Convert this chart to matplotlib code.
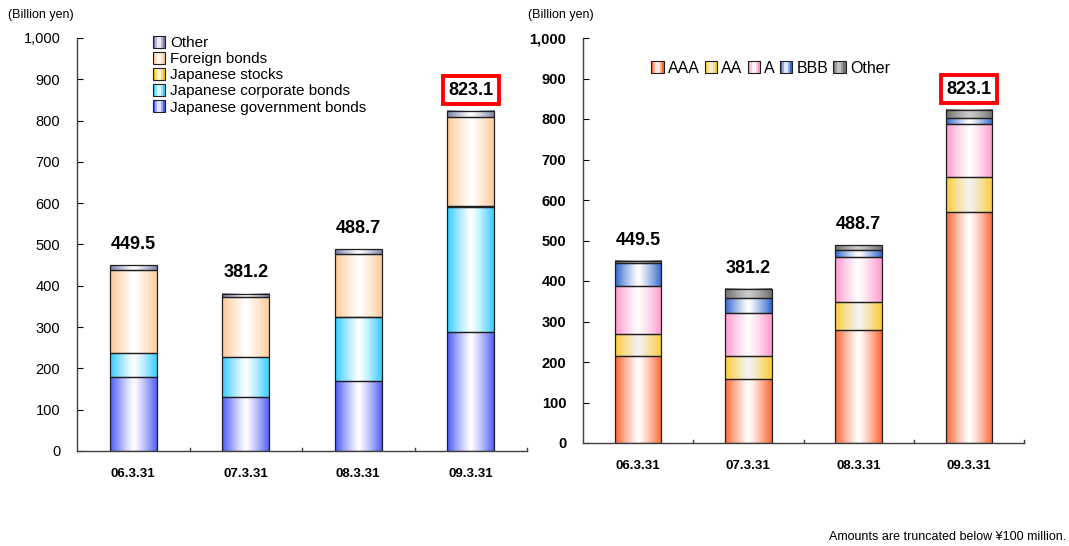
import numpy as np
import matplotlib.pyplot as plt
from matplotlib.colors import to_rgb
from matplotlib.patches import Rectangle
from matplotlib.legend_handler import HandlerBase

plt.rcParams['font.family'] = ['Liberation Sans', 'DejaVu Sans']

dates = ['06.3.31', '07.3.31', '08.3.31', '09.3.31']
totals = [449.5, 381.2, 488.7, 823.1]

# holdings by asset type (billion yen)
jgb = [179, 131, 170, 288]
corp_bonds = [58, 97, 154, 303]
stocks = [0, 0, 1, 2]
foreign_bonds = [201, 145, 153, 215]
other_assets = [11.5, 8.2, 10.7, 15.1]

# holdings by credit rating (billion yen)
aaa = [214, 158, 279, 570]
aa = [55, 56, 69, 88]
a_rated = [119, 106, 111, 130]
bbb = [56, 37, 18, 15]
other_rating = [5.5, 24.2, 11.7, 20.1]


def gradient(color, center=(1, 1, 1), n=64):
    # edge colour -> white-ish in the middle -> edge colour
    x = np.linspace(0, 1, n)
    t = np.abs(x - 0.5) * 2
    t = t ** 1.2
    c = np.array(to_rgb(color))
    w = np.array(center)
    return (w[None, :] * (1 - t[:, None]) + c[None, :] * t[:, None])[None, :, :]


def grad_bar(ax, x, bottom, height, color, width=0.42, center=(1, 1, 1)):
    if height <= 0:
        return
    ax.imshow(gradient(color, center), extent=(x - width / 2, x + width / 2, bottom, bottom + height),
              aspect='auto', interpolation='bilinear', zorder=2)
    ax.add_patch(Rectangle((x - width / 2, bottom), width, height, fill=False,
                           edgecolor='#202020', linewidth=0.9, zorder=3))


class GradHandler(HandlerBase):
    def __init__(self, color, center=(1, 1, 1)):
        super().__init__()
        self.color = color
        self.center = center

    def create_artists(self, legend, orig_handle, xd, yd, width, height, fontsize, trans):
        s = min(width, height)
        x0 = -xd + (width - s) / 2
        y0 = -yd
        cols = gradient(self.color, self.center, n=6)[0]
        arts = []
        for i, c in enumerate(cols):
            arts.append(Rectangle((x0 + i * s / 6, y0), s / 6, s, facecolor=c,
                                  edgecolor='none', transform=trans))
        arts.append(Rectangle((x0, y0), s, s, fill=False, edgecolor='#202020',
                              linewidth=0.8, transform=trans))
        return arts


def style_axes(ax, bold):
    ax.set_xlim(-0.5, 3.5)
    ax.set_ylim(0, 1000)
    ax.spines['top'].set_visible(False)
    ax.spines['right'].set_visible(False)
    for s in ('left', 'bottom'):
        ax.spines[s].set_color('#404040')
        ax.spines[s].set_linewidth(1.0)
    ax.set_yticks(range(0, 1001, 100))
    ax.set_yticklabels([f'{v:,}' for v in range(0, 1001, 100)],
                       fontsize=10.5, fontweight='bold' if bold else 'normal')
    ax.tick_params(axis='y', direction='in', length=4, pad=12)
    ax.set_xticks(range(4))
    ax.set_xticklabels(dates, fontsize=9.5, fontweight='bold')
    ax.tick_params(axis='x', length=0, pad=12)
    for b in [0.5, 1.5, 2.5, 3.5]:
        ax.plot([b, b], [0, 8], color='#404040', lw=1.0, clip_on=False, zorder=4)


def total_labels(ax, series):
    for i, t in enumerate(totals):
        top = sum(s[1][i] for s in series)
        if i == 3:
            ax.text(i, top + 50, f'{t}', ha='center', va='center', fontsize=13, fontweight='bold',
                    bbox=dict(boxstyle='square,pad=0.3', facecolor='white',
                              edgecolor='#FF0000', linewidth=2.8))
        else:
            ax.text(i, top + 50, f'{t}', ha='center', va='center', fontsize=13, fontweight='bold')


fig = plt.figure(figsize=(10.69, 5.46), dpi=100)

# left: by asset type
ax1 = fig.add_axes([77 / 1069, 1 - 451 / 546, 450 / 1069, 413 / 546])
left_series = [
    ('Japanese government bonds', jgb, '#4B5AF5'),
    ('Japanese corporate bonds', corp_bonds, '#33CCFF'),
    ('Japanese stocks', stocks, '#FFC000'),
    ('Foreign bonds', foreign_bonds, '#FFC896'),
    ('Other', other_assets, '#7C7CA8'),
]
for i in range(4):
    bottom = 0
    for name, vals, col in left_series:
        grad_bar(ax1, i, bottom, vals[i], col)
        bottom += vals[i]
style_axes(ax1, bold=False)
total_labels(ax1, left_series)

order = list(reversed(left_series))
hs = [Rectangle((0, 0), 1, 1) for _ in order]
ax1.legend(hs, [s[0] for s in order],
           handler_map={h: GradHandler(s[2]) for h, s in zip(hs, order)},
           loc='upper left', bbox_to_anchor=(0.155, 1.02),
           frameon=False, fontsize=11, handlelength=0.8, handleheight=0.8,
           handletextpad=0.35, labelspacing=0.13, borderaxespad=0)
fig.text(8 / 1069, 1 - 15 / 546, '(Billion yen)', fontsize=9, va='center')

# right: by credit rating
ax2 = fig.add_axes([583 / 1069, 1 - 443 / 546, 441 / 1069, 405 / 546])
right_series = [
    ('AAA', aaa, '#FF6633', (1, 1, 1)),
    ('AA', aa, '#FFCC33', (0.95, 0.95, 0.95)),
    ('A', a_rated, '#FF99CC', (1, 1, 1)),
    ('BBB', bbb, '#3366CC', (1, 1, 1)),
    ('Other', other_rating, '#707070', (0.8, 0.8, 0.8)),
]
for i in range(4):
    bottom = 0
    for name, vals, col, cen in right_series:
        grad_bar(ax2, i, bottom, vals[i], col, center=cen)
        bottom += vals[i]
style_axes(ax2, bold=True)
total_labels(ax2, right_series)

hs2 = [Rectangle((0, 0), 1, 1) for _ in right_series]
ax2.legend(hs2, [s[0] for s in right_series],
           handler_map={h: GradHandler(s[2], s[3]) for h, s in zip(hs2, right_series)},
           loc='upper left', bbox_to_anchor=(0.14, 0.96), ncol=5,
           frameon=False, fontsize=11.5, handlelength=0.8, handleheight=0.8,
           handletextpad=0.25, columnspacing=0.3, borderaxespad=0)
fig.text(528 / 1069, 1 - 15 / 546, '(Billion yen)', fontsize=9, va='center')

fig.text(1066 / 1069, 1 - 537 / 546, 'Amounts are truncated below ¥100 million.',
         fontsize=9, ha='right', va='center')

fig.savefig('out.png', dpi=100)
